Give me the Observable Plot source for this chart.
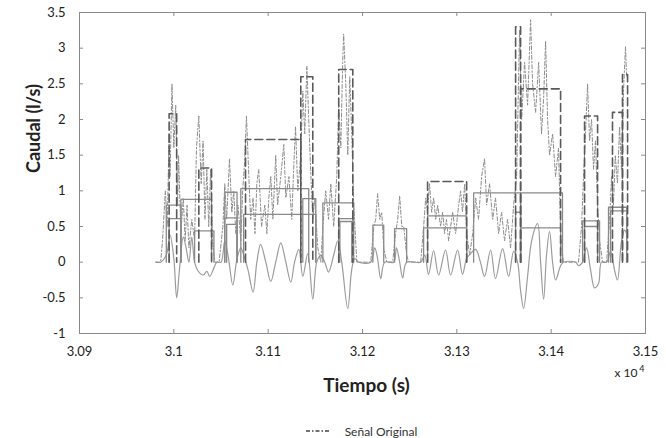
<!DOCTYPE html>
<html><head><meta charset="utf-8">
<script src="https://cdn.jsdelivr.net/npm/d3@7"></script>
<script src="https://cdn.jsdelivr.net/npm/@observablehq/plot@0.6"></script>
<style>
html,body{margin:0;padding:0;background:#fff;overflow:hidden;}
#legend{display:flex;align-items:center;justify-content:center;height:14px;margin-top:20px;padding-left:56px;font:12px Lato,sans-serif;color:#333;}
</style></head><body>
<div id="chart"></div>
<div id="legend"><svg width="26" height="10"><line x1="1" y1="5" x2="25" y2="5" stroke="#444" stroke-width="1.4" stroke-dasharray="4,2,1.5,2"/></svg><span style="margin-left:14px">Señal Original</span></div>
<script>
// Tiempo (s) and Caudal (l/s)
const xTicks = [30900, 31000, 31100, 31200, 31300, 31400, 31500];
const yTicks = [-1, -0.5, 0, 0.5, 1, 1.5, 2, 2.5, 3, 3.5];
const legendLabel = "Señal Original";

// Señal Original (dash-dot)
const origT = [30981,30986,30988,30991,30993,30995,30996,30998,31000,31002,31004,31005,31007.5,31010,31012,31014,31016,31019,31022,31024,31026.5,31029,31031,31033,31035,31037,31039,31041,31043.5,
  31048,31052,31054,31056,31059,31061.5,31063.5,31065.7,31068,
  31071,31073,31075,31077,31079.5,31081.5,31084,31086,31088,31090,31093,31096.5,31098.6,31100.7,31102.8,31105,31108,31110,31113.4,31116.6,31118.7,31122,31125,31127,31129,31131.4,31134.6,31136.7,31138.8,31141,31143,31145,31147.3,31149.4,31152.6,
  31155.8,31158,31161,31164,31166.4,31169.5,31172.7,31174.8,31177,31179,31180,31182.3,31184.4,31186.5,31188.6,31190.7,31194,
  31208.7,31212,31214,31216,31218.3,31220.4,31222.5,31225.7,
  31232,31235,31237.3,31239.4,31241.6,31243.7,31246.8,31249,
  31261.7,31264.8,31267,31269,31271,31273.3,31275.4,31277.6,31279.7,31282.8,31285,31287,31289,31291.3,31293.4,31295.6,31298.7,31301.9,31304,31306,31308.3,31310.4,31313.6,
  31316.8,31320,31323,31326.3,31329.4,31331.6,31334.7,31338,31341,31344.3,31347.4,31350.6,31353.8,31357,31360.2,31363.4,31365.5,31366.5,31368.7,31371.8,31375,31378.2,31380.3,31383.5,31386.7,31389.8,31392,31394.1,31396.2,31398.3,31401.5,31404.7,31407.8,31410,31413,
  31429,31432.2,31434.3,31436.4,31438.6,31440.7,31442.8,31444.9,31447,31449.2,31451.3,31454.5,
  31458.7,31462,31464,31466,31468,31470.3,31472.5,31474.6,31476.7,31478.8,31480];
const origQ = [0,0,0.3,1.0,0.5,1.8,1.2,2.5,1.6,2.2,0.8,1.5,0.4,0.9,0.3,0.8,0.2,0.6,0.3,1.6,2.05,1.1,1.7,0.6,1.3,0.5,1.3,0.3,0,
  0,0.5,1.1,0.6,1.45,0.7,1.0,0.4,0.8,
  0.3,1.0,1.4,2.05,1.2,0.6,0.9,0.4,1.1,1.3,0.5,0.8,0.4,0.9,1.2,0.6,1.5,0.8,1.2,1.65,0.9,1.2,0.6,1.3,1.9,1.0,1.5,2.4,1.8,2.75,2.0,1.3,0.6,0.9,0.2,
  0,0.5,1.0,0.6,1.1,0.5,1.2,2.2,1.6,2.8,3.2,2.5,1.5,2.6,1.8,0.8,0,
  0,0.5,0.6,0.96,0.6,0.7,0.2,0,
  0,0.4,0.6,0.93,0.5,0.5,0.1,0,
  0,0.5,0.9,0.7,1.1,0.7,0.9,0.6,0.8,0.5,0.7,0.4,0.6,0.3,0.5,0.7,0.4,0.8,1.0,0.7,1.1,0.4,0.1,
  0.4,0.9,0.6,1.2,1.45,0.8,1.1,0.6,0.9,0.4,0.7,0.3,0.6,0.2,0.8,1.2,2.6,3.25,2.0,2.8,2.2,3.4,2.5,2.1,2.8,1.8,2.3,3.1,2.0,1.5,1.8,1.2,1.6,0.4,0,
  0,0.5,1.2,1.8,2.5,1.7,2.0,1.3,1.7,0.8,0.3,0,
  0,0.6,1.2,0.8,1.5,1.1,1.9,1.3,2.4,3.02,2.6];

// dashed levels: start, end, value
const dashT1 = [30995,31026.5,31076,31134.6,31174.8,31269,31362.3,31367.6,31435.4,31465,31475.6];
const dashT2 = [31003,31040,31134.6,31147.3,31189.7,31310.4,31367.6,31410,31449.2,31475.6,31481];
const dashQ  = [2.08,1.32,1.72,2.6,2.7,1.13,3.3,2.43,2.05,2.1,2.63];

// solid levels: start, end, value
const solT1 = [30992,30995,31007.5,31022,31054,31054,31056,31071,31074,31136.7,31158,31174.8,31176,31211,31234,31269,31264.8,31317.8,31367.6,31367.6,31362.3,31433.3,31435.4,31460.8,31463];
const solT2 = [31007.5,31007.5,31040,31042.5,31067,31067,31067,31143,31150.5,31150.5,31190.7,31189.7,31188.6,31222.5,31246.8,31310.4,31310.4,31367.6,31412,31410,31367.6,31451.3,31449.2,31480,31480];
const solQ  = [0.80,0.61,0.88,0.44,0.98,0.62,0.53,1.03,0.67,0.89,0.83,0.61,0.57,0.52,0.47,0.65,0.48,0.97,0.97,0.48,0.70,0.58,0.50,0.77,0.72];

// oscillating detail signal
const oscT = [30981,30986,30992,30996,31000,31003,31006,31010,31013,31016,31019,31022,31025.5,31031,31035,31038,31042.5,31045.5,
  31050,31054,31058,31062.5,31067,31071,31074,31078.5,31084,31088,31092,31097.5,31102.8,31108,31113.4,31118.7,31124,31128,31132.5,31136.7,31142,31147.3,31151.5,
  31155.8,31160,31164,31169.5,31173.8,31178,31184.4,31188.6,31191.8,31196,
  31208.7,31213,31216,31219.3,31223.5,31233,31236,31239.4,31242.6,31246.8,
  31261.7,31266,31270,31275.4,31280.7,31288,31293.4,31300.8,31306,31310.4,31314.6,31320,31325,31329.4,31335.8,31341,31348.5,31354.9,31360.2,31364.4,
  31367.6,31370.8,31375,31379.3,31385.6,31388.8,31392,31395.1,31398.3,31401.5,31404.7,31410,31413,
  31426,31429,31433.3,31437.5,31441.7,31446,31450.2,31453.4,31458.7,31463,31467,31470.3,31474.6,31477.8,31480];
const oscQ = [0,0,0.1,0.38,0.05,-0.5,-0.1,0.35,0.2,0,0.35,0,-0.12,-0.18,-0.13,-0.2,-0.08,0,
  0,0.3,0.05,-0.32,0.05,0.2,0.1,-0.1,-0.42,0,0.25,0,-0.27,0,0.27,0,-0.28,0,0.18,-0.2,0.12,-0.52,0,
  0.1,0,-0.14,0.1,0.3,0,-0.65,-0.1,0.05,0,
  0,0.2,0.05,-0.23,0,0,0.2,0,-0.22,0,
  0,0.1,-0.17,0.16,-0.18,0.17,-0.18,0.17,-0.17,0.05,0.12,0.18,0,-0.2,0.17,-0.23,0.19,-0.2,0.15,0,
  -0.4,-0.65,-0.2,0.3,0.54,0,-0.52,0.1,0.43,0,-0.25,-0.05,0,
  0,-0.05,0,0.2,-0.1,-0.36,-0.3,0,0,0.15,-0.1,-0.25,0.3,0.45,0.4];

const orig = origT.map((t, i) => ({t, q: origQ[i]}));
const osc = oscT.map((t, i) => ({t, q: oscQ[i]}));
function stepRows(t1, t2, q, name) {
  const rows = [];
  t1.forEach((a, i) => {
    const k = name + i;
    rows.push({t: a, q: 0, k}, {t: a, q: q[i], k}, {t: t2[i], q: q[i], k}, {t: t2[i], q: 0, k});
  });
  return rows;
}
const dashRows = stepRows(dashT1, dashT2, dashQ, "d");
const solRows = stepRows(solT1, solT2, solQ, "s");

const W = 666, H = 404, ML = 79, MR = 21, MT = 12, MB = 71;
const frameW = W - ML - MR, frameH = H - MT - MB, tick = 4;
const axisColor = "#8a8a8a";
const chart = Plot.plot({
  width: W,
  height: H,
  marginLeft: ML,
  marginRight: MR,
  marginTop: MT,
  marginBottom: MB,
  style: {fontFamily: "Lato, sans-serif", fontSize: "13px", color: "#222", background: "#fff"},
  x: {domain: [30900, 31500]},
  y: {domain: [-1, 3.5]},
  marks: [
    Plot.line(osc, {x: "t", y: "q", stroke: "#9c9c9c", strokeWidth: 1.2, curve: "catmull-rom"}),
    Plot.line(solRows, {x: "t", y: "q", z: "k", stroke: "#8a8a8a", strokeWidth: 1.3}),
    Plot.line(orig, {x: "t", y: "q", stroke: "#8e8e8e", strokeWidth: 1, strokeDasharray: "4,2,1.5,2"}),
    Plot.line(dashRows, {x: "t", y: "q", z: "k", stroke: "#5a5a5a", strokeWidth: 1.6, strokeDasharray: "8,4"}),
    Plot.frame({stroke: axisColor}),
    Plot.tickX(xTicks, {x: d => d, insetTop: frameH - tick, stroke: axisColor}),
    Plot.tickX(xTicks, {x: d => d, insetBottom: frameH - tick, stroke: axisColor}),
    Plot.tickY(yTicks, {y: d => d, insetRight: frameW - tick, stroke: axisColor}),
    Plot.tickY(yTicks, {y: d => d, insetLeft: frameW - tick, stroke: axisColor}),
    Plot.axisX({anchor: "bottom", ticks: xTicks, tickSize: 0, tickPadding: 13, tickFormat: d => String(d / 1e4), label: null, fill: "#222"}),
    Plot.axisY({anchor: "left", ticks: yTicks, tickSize: 0, tickPadding: 14, tickFormat: d => String(d), label: null, fill: "#222"}),
    Plot.text(["Caudal (l/s)"], {text: d => d, frameAnchor: "left", rotate: -90, dx: -45, fontWeight: "bold", fontSize: 18, fill: "#222"}),
    Plot.text(["Tiempo (s)"], {text: d => d, frameAnchor: "bottom", dx: 4, dy: 58, fontWeight: "bold", fontSize: 19, fill: "#222"}),
    Plot.text(["x 10"], {text: d => d, frameAnchor: "bottom-right", textAnchor: "end", dx: -8, dy: 43, fontSize: 12, fill: "#222"}),
    Plot.text(["4"], {text: d => d, frameAnchor: "bottom-right", textAnchor: "end", dx: -1, dy: 38, fontSize: 9, fill: "#222"})
  ]
});
document.getElementById("chart").appendChild(chart);
document.querySelector("#legend span").textContent = legendLabel;
</script>
</body></html>
